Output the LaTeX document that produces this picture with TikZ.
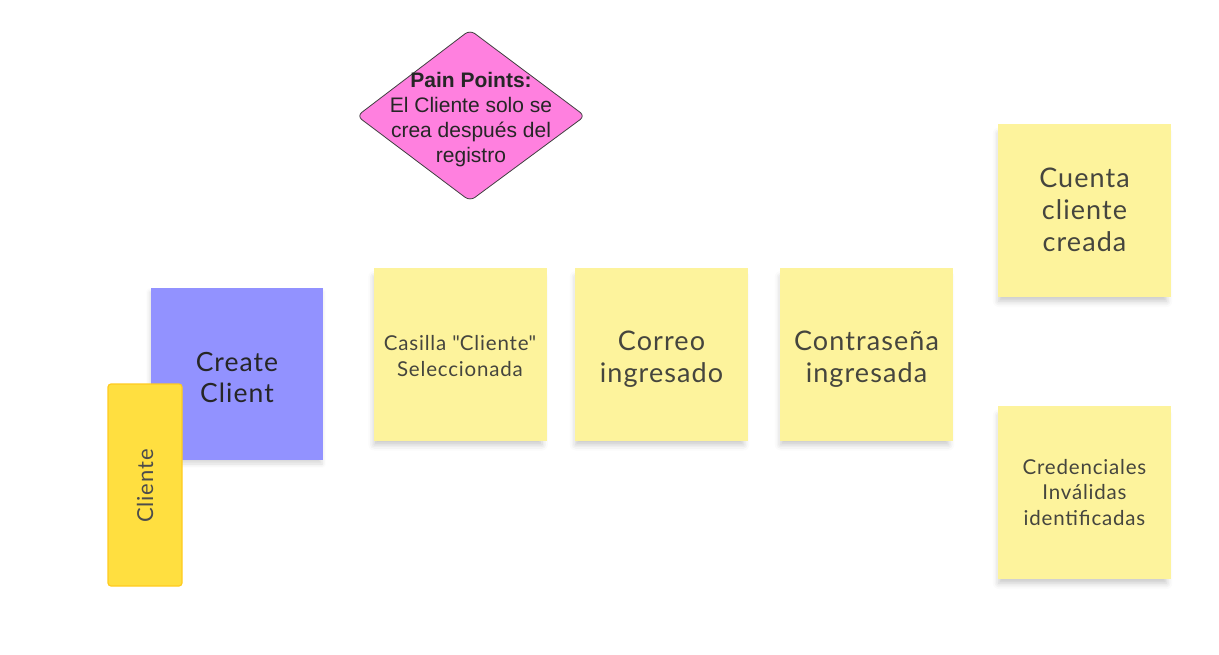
\documentclass[tikz,border=0pt]{standalone}
\usepackage{fontspec}
\setmainfont{Lato}
\newfontfamily\wfont[LetterSpace=4]{Lato}
\newfontfamily\diafont{Liberation Sans}
\usetikzlibrary{shadows,shadows.blur}
\definecolor{sticky}{HTML}{FDF39C}
\definecolor{stickytext}{HTML}{45453E}
\definecolor{pinkfill}{HTML}{FF80DF}
\definecolor{purplefill}{HTML}{9292FF}
\definecolor{clifill}{HTML}{FFDF40}
\definecolor{cliborder}{HTML}{FFCB1F}
\tikzset{
  x=1pt, y=-1pt,
  softshadow/.style={blur shadow={shadow xshift=-2pt, shadow yshift=-7pt, shadow blur radius=6pt,
    shadow opacity=22, shadow scale=0.97}},
  note/.style={fill=sticky, draw=none, inner sep=0pt, minimum width=173pt, minimum height=173pt,
    softshadow},
  bigtxt/.style={inner sep=0pt, align=center, text=stickytext, font=\wfont\fontsize{27}{32}\selectfont},
  smalltxt/.style={inner sep=0pt, align=center, text=stickytext, font=\wfont\fontsize{20.5}{25.5}\selectfont},
  txt/.style={inner sep=0pt, align=center}
}
\begin{document}
\begin{tikzpicture}
\useasboundingbox (0,0) rectangle (1219,654);
% Pain points diamond
\draw[fill=pinkfill, draw=black!75, line width=0.8pt, rounded corners=6pt]
  (470,30) -- (585,116) -- (470,201) -- (357,116) -- cycle;
\node[txt, font=\diafont\fontsize{21}{25}\selectfont, text=black!85] (pain) at (471,120)
  {\textbf{Pain Points:}\\El Cliente solo se\\crea después del\\registro};
% Create Client
\node[fill=purplefill, inner sep=0pt, minimum width=172pt, minimum height=172pt,
  blur shadow={shadow xshift=-1pt, shadow yshift=-4pt, shadow blur radius=4pt, shadow opacity=15}]
  (create) at (237,374) {};
\node[txt, text=black!85, font=\wfont\fontsize{26.5}{31}\selectfont] (createtxt)
  at ([yshift=-3pt]create.center) {Create\\Client};
% Cliente actor
\node[fill=clifill, draw=cliborder, line width=1.2pt, rounded corners=3pt, inner sep=0pt,
  minimum width=74pt, minimum height=202pt] (cliente) at (145,485) {};
\node[txt, rotate=90, font=\wfont\fontsize{22}{26}\selectfont, text=black!70] (clientelbl)
  at ([yshift=-1pt]cliente.center) {Cliente};
% Sticky notes
\node[note] (casilla) at (460,354) {};
\node[smalltxt] (casillatxt) at ([yshift=-2pt]casilla.center) {Casilla \textquotedbl Cliente\textquotedbl\\Seleccionada};
\node[note] (correo) at (661.5,354) {};
\node[bigtxt] (correotxt) at ([yshift=-5pt]correo.center) {Correo\\ingresado};
\node[note] (contra) at (866.5,354) {};
\node[bigtxt] (contratxt) at ([yshift=-5pt]contra.center) {Contraseña\\ingresada};
\node[note] (cuenta) at (1084.5,210.5) {};
\node[bigtxt] (cuentatxt) at ([yshift=1pt]cuenta.center) {Cuenta\\cliente\\creada};
\node[note] (cred) at (1084.5,492.5) {};
\node[smalltxt] (credtxt) at (cred.center) {Credenciales\\Inválidas\\identificadas};
\end{tikzpicture}
\end{document}
